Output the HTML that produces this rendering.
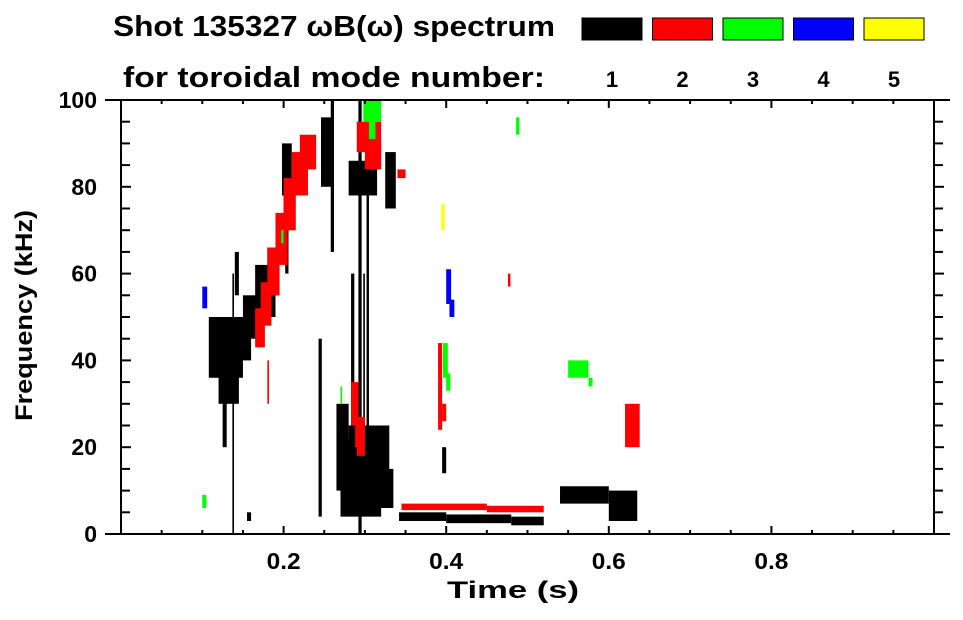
<!DOCTYPE html>
<html><head><meta charset="utf-8"><style>
body{margin:0;background:#fff;width:963px;height:615px;overflow:hidden;font-family:"Liberation Sans",sans-serif}
svg text{font-family:"Liberation Sans",sans-serif;font-weight:bold;fill:#000}
</style></head><body>
<svg id="c" width="963" height="615">
<text x="113" y="36" font-size="29" textLength="442" lengthAdjust="spacingAndGlyphs">Shot 135327 ωB(ω) spectrum</text>
<text x="123" y="87" font-size="29" textLength="422" lengthAdjust="spacingAndGlyphs">for toroidal mode number:</text>
<g id="legend"></g>
<g id="marks"></g>
<g id="axes"></g>
<text x="447" y="598" font-size="24" textLength="132" lengthAdjust="spacingAndGlyphs">Time (s)</text>
<text transform="translate(32,421) rotate(-90)" font-size="24" textLength="211" lengthAdjust="spacingAndGlyphs">Frequency (kHz)</text>
</svg>
<script>
const modes=[1,2,3,4,5];
const modeColors=["#000","#f00","#0f0","#00f","#ff0"];
const xTicks=[0.2,0.4,0.6,0.8];
const yTicks=[0,20,40,60,80,100];
// segments per mode: [t0,t1,f0,f1]
const mode1=[[0.108,0.15,36,50],[0.12,0.145,30,40],[0.135,0.16,40,50],[0.15,0.17,45,55],[0.165,0.19,50,62],[0.18,0.195,55,66],[0.137,0.139,0,60],[0.125,0.13,20,35],[0.198,0.21,78,90],[0.2,0.214,70,82],[0.202,0.206,60,80],[0.246,0.262,80,96],[0.258,0.262,65,100],[0.27,0.32,4,22],[0.265,0.28,10,30],[0.28,0.33,6,25],[0.325,0.335,6,15],[0.292,0.296,0,100],[0.302,0.305,20,85],[0.283,0.287,20,60],[0.298,0.3,25,60],[0.28,0.315,78,86],[0.325,0.338,75,88],[0.243,0.247,4,45],[0.342,0.4,3,5],[0.4,0.48,2.5,4.5],[0.48,0.52,2,4],[0.54,0.6,7,11],[0.6,0.635,3,10],[0.395,0.4,14,20],[0.155,0.16,3,5],[0.14,0.145,55,65]];
const mode2=[[0.22,0.24,84,92],[0.21,0.23,78,88],[0.2,0.215,70,82],[0.19,0.205,62,74],[0.18,0.195,55,66],[0.172,0.185,48,58],[0.165,0.177,43,52],[0.29,0.32,88,95],[0.3,0.32,84,90],[0.283,0.292,25,35],[0.288,0.3,20,27],[0.29,0.3,18,24],[0.39,0.395,24,44],[0.395,0.4,26,30],[0.62,0.638,20,30],[0.345,0.45,5.5,7],[0.45,0.52,5,6.5],[0.34,0.35,82,84],[0.18,0.182,30,40],[0.476,0.479,57,60]];
const mode3=[[0.298,0.32,95,100],[0.305,0.313,91,96],[0.396,0.402,36,44],[0.4,0.405,33,37],[0.55,0.575,36,40],[0.575,0.58,34,36],[0.486,0.49,92,96],[0.197,0.2,67,70],[0.27,0.272,30,34],[0.1,0.105,6,9]];
const mode4=[[0.1,0.106,52,57],[0.4,0.406,53,61],[0.404,0.41,50,54]];
const mode5=[[0.394,0.398,70,76]];
const series=[mode1,mode2,mode3,mode4,mode5];
const NS="http://www.w3.org/2000/svg";
const X0=121,X1=934,Y0=534,Y1=100;
const xs=t=>X0+(X1-X0)*t;
const ys=f=>Y0-(Y0-Y1)*f/100;
function mk(tag,at,parent){const e=document.createElementNS(NS,tag);for(const k in at)e.setAttribute(k,at[k]);parent.appendChild(e);return e;}
const marks=document.getElementById('marks');
series.forEach((segs,mi)=>{
  segs.forEach((s,si)=>{
    const r=mk('rect',{x:xs(s[0]),y:ys(s[3]),width:Math.max(1.5,xs(s[1])-xs(s[0])),height:Math.max(1.5,ys(s[2])-ys(s[3])),fill:modeColors[mi]},marks);
    
    
  });
});
const lg=document.getElementById('legend');
modes.forEach((m,i)=>{
  const x=582+i*70.5;
  const r=mk('rect',{x:x,y:18,width:60,height:22,fill:modeColors[i],stroke:'#000','stroke-width':1},lg);
  
  
  const t=mk('text',{x:x+30,y:87,'font-size':22,'text-anchor':'middle'},lg);
  t.textContent=m;
  
  
});
const ax=document.getElementById('axes');
const ln=(a,b,c,d)=>mk('line',{x1:a,y1:b,x2:c,y2:d,stroke:'#000','stroke-width':2},ax);
ln(105,Y0,950,Y0);ln(105,Y1,950,Y1);ln(X0,Y1,X0,Y0);ln(X1,Y1,X1,Y0);
for(let t=0.05;t<1.0001;t+=0.05){const x=xs(t);const maj=Math.abs(t*5-Math.round(t*5))<1e-6;const L=maj?8:4;ln(x,Y0,x,Y0-L);ln(x,Y1,x,Y1+L);}
for(let f=0;f<=100;f+=5){const y=ys(f);const maj=f%20===0;ln(X0,y,X0+(maj?10:9),y);ln(X1,y,X1+(maj?10:9),y);}
xTicks.forEach(t=>{const e=mk('text',{x:xs(t),y:569,'font-size':23,'text-anchor':'middle',textLength:34,lengthAdjust:'spacingAndGlyphs'},ax);e.textContent=t.toFixed(1);

});
yTicks.forEach(f=>{const e=mk('text',{x:97,y:ys(f)+8,'font-size':23,'text-anchor':'end'},ax);e.textContent=f;

});
</script>
</body></html>
